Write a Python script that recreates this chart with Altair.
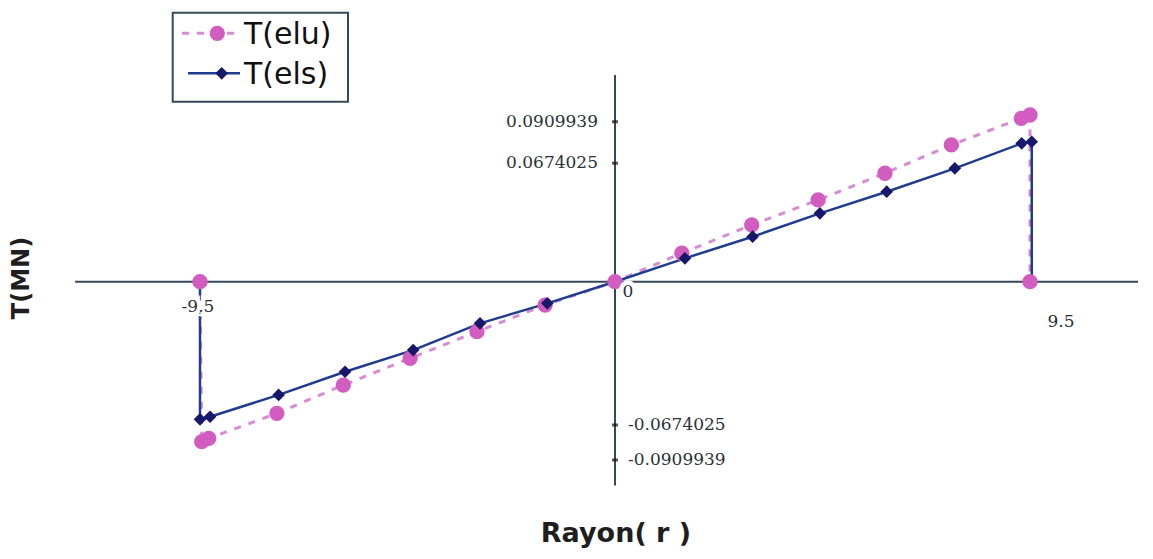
import altair as alt
import pandas as pd

# ---- data ----
elu_r = [-9.5, -9.46, -9.3, -7.74, -6.22, -4.69, -3.16, -1.6, 0, 1.53, 3.13, 4.65, 6.18, 7.7, 9.3, 9.5, 9.5]
elu_t = [0, -0.0910, -0.0891, -0.0749, -0.0588, -0.0436, -0.0284, -0.0133, 0,
         0.0162, 0.0323, 0.0465, 0.0617, 0.0778, 0.0929, 0.0948, 0]

els_r = [-9.5, -9.5, -9.27, -7.7, -6.18, -4.62, -3.09, -1.55, 0, 1.6, 3.15, 4.69, 6.22, 7.78, 9.31, 9.54, 9.54]
els_t = [0, -0.0783, -0.0768, -0.0644, -0.0512, -0.0389, -0.0237, -0.0123, 0,
         0.0133, 0.0256, 0.0389, 0.0512, 0.0645, 0.0787, 0.0796, 0]

x_tick_vals = [-9.5, 0, 9.5]
x_tick_labels = ["-9.5", "0", "9.5"]
y_tick_pos = [0.0909939, 0.0674025, -0.0815, -0.1014]
y_tick_labels = ["0.0909939", "0.0674025", "-0.0674025", "-0.0909939"]

series_names = ["T(elu)", "T(els)"]
x_title = "Rayon( r )"
y_title = "T(MN)"

# ---- styles ----
W, H = 1130, 540
PINK = "#d25cbf"
PINK_LINE = "#d98ad5"
NAVY = "#17186b"
BLUE_LINE = "#1f3c8e"
AXIS = "#34495a"
TXT = "#2b3338"

# pixel mapping: 0 at plot x 607, 43.684 px per unit; 0 at plot y 273.7, 1758 px per unit
xs = alt.Scale(domain=[-607 / 43.684, (W - 607) / 43.684], nice=False, zero=False)
ys = alt.Scale(domain=[-(H - 273.7) / 1758, 273.7 / 1758], nice=False, zero=False)

elu = pd.DataFrame({"r": elu_r, "t": elu_t, "i": range(len(elu_r))})
els = pd.DataFrame({"r": els_r, "t": els_t, "i": range(len(els_r))})

X = lambda f="r": alt.X(f"{f}:Q", scale=xs, axis=None)
Y = lambda f="t": alt.Y(f"{f}:Q", scale=ys, axis=None)

one = pd.DataFrame({"a": [0]})

# axes drawn through the origin
haxis = alt.Chart(pd.DataFrame({"x": [-12.36], "x2": [12.02], "y": [0]})).mark_rule(
    color=AXIS, strokeWidth=2).encode(x=X("x"), x2="x2:Q", y=Y("y"))
vaxis = alt.Chart(pd.DataFrame({"x": [0], "y": [0.1176], "y2": [-0.1159]})).mark_rule(
    color=AXIS, strokeWidth=2).encode(x=X("x"), y=Y("y"), y2="y2:Q")

ticks = alt.Chart(pd.DataFrame({"x": [0] * len(y_tick_pos), "y": y_tick_pos})).mark_tick(
    orient="horizontal", size=6, thickness=3, color="#111").encode(x=X("x"), y=Y("y"))

layers = [haxis, vaxis, ticks]

# y tick labels
ydf = pd.DataFrame({"x": [0] * len(y_tick_pos), "y": y_tick_pos, "lab": y_tick_labels})
layers.append(alt.Chart(ydf[ydf.y > 0]).mark_text(
    align="right", baseline="middle", dx=-17, font="DejaVu Serif", fontSize=17, color=TXT
).encode(x=X("x"), y=Y("y"), text="lab:N"))
layers.append(alt.Chart(ydf[ydf.y < 0]).mark_text(
    align="left", baseline="middle", dx=13, font="DejaVu Serif", fontSize=17, color=TXT
).encode(x=X("x"), y=Y("y"), text="lab:N"))

# data series
elu_line = alt.Chart(elu).mark_line(color=PINK_LINE, strokeWidth=3, strokeDash=[7, 8]).encode(
    x=X(), y=Y(), order="i:Q")
elu_pts = alt.Chart(elu).mark_point(shape="circle", filled=True, size=235, color=PINK, opacity=1).encode(
    x=X(), y=Y())
els_line = alt.Chart(els).mark_line(color=BLUE_LINE, strokeWidth=2.5).encode(
    x=X(), y=Y(), order="i:Q")
els_pts = alt.Chart(els[(els.t != 0)]).mark_point(shape="diamond", filled=True, size=160, color=NAVY, opacity=1).encode(
    x=X(), y=Y())
layers += [elu_line, els_line, elu_pts, els_pts]

# x tick labels (hand placed as in the reference)
x_dx = [-2, 13, 31]
x_dy = [25, 10, 40]
for v, lab, dx, dy in zip(x_tick_vals, x_tick_labels, x_dx, x_dy):
    d = pd.DataFrame({"x": [v], "y": [0], "lab": [lab]})
    layers.append(alt.Chart(d).mark_text(
        align="center", baseline="middle", dx=dx, dy=dy, font="DejaVu Serif", fontSize=17,
        color="white", stroke="white", strokeWidth=9).encode(x=X("x"), y=Y("y"), text="lab:N"))
    layers.append(alt.Chart(d).mark_text(
        align="center", baseline="middle", dx=dx, dy=dy, font="DejaVu Serif", fontSize=17,
        color=TXT).encode(x=X("x"), y=Y("y"), text="lab:N"))

# axis titles
layers.append(alt.Chart(pd.DataFrame({"t": [y_title]})).mark_text(
    angle=270, align="center", baseline="middle", font="DejaVu Sans", fontWeight="bold",
    fontSize=24, color="#1e1e1e").encode(x=alt.value(14), y=alt.value(270), text="t:N"))
layers.append(alt.Chart(pd.DataFrame({"t": [x_title]})).mark_text(
    align="center", baseline="middle", font="DejaVu Sans", fontWeight="bold",
    fontSize=27, color="#1e1e1e").encode(x=alt.value(608), y=alt.value(526), text="t:N"))

# legend
layers.append(alt.Chart(one).mark_rect(fill="white", stroke=AXIS, strokeWidth=2).encode(
    x=alt.value(164.7), x2=alt.value(340), y=alt.value(4.7), y2=alt.value(93.7)))
layers.append(alt.Chart(one).mark_rule(color=PINK_LINE, strokeWidth=3, strokeDash=[7, 8]).encode(
    x=alt.value(174), x2=alt.value(231), y=alt.value(25.3)))
layers.append(alt.Chart(one).mark_point(shape="circle", filled=True, size=235, color=PINK, opacity=1).encode(
    x=alt.value(209.3), y=alt.value(25.3)))
layers.append(alt.Chart(one).mark_rule(color=BLUE_LINE, strokeWidth=2.5).encode(
    x=alt.value(180), x2=alt.value(232), y=alt.value(65.3)))
layers.append(alt.Chart(one).mark_point(shape="diamond", filled=True, size=160, color=NAVY, opacity=1).encode(
    x=alt.value(213.7), y=alt.value(65.3)))
for k, name in enumerate(series_names):
    layers.append(alt.Chart(pd.DataFrame({"lab": [name]})).mark_text(
        align="left", baseline="middle", font="DejaVu Sans", fontSize=30, color="#111").encode(
        x=alt.value(236), y=alt.value(27 + 40 * k), text="lab:N"))

chart = alt.layer(*layers).properties(
    width=W, height=H, padding=0, autosize=alt.AutoSizeParams(type="none"),
    view=alt.ViewBackground(stroke="transparent", strokeOpacity=0)
).configure_view(stroke="transparent", strokeOpacity=0).configure(background="white")

chart.save("out.html", embed_options={"renderer": "svg", "actions": False})
